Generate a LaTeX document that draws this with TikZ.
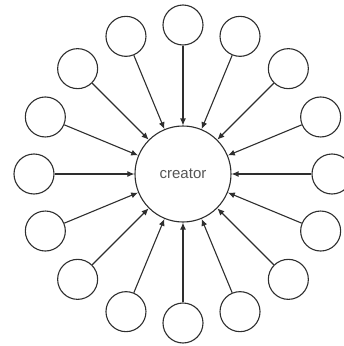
\documentclass[tikz,border=0pt]{standalone}
\usepackage{fontspec}
\setmainfont{Liberation Sans}
\usetikzlibrary{arrows.meta}
\definecolor{ink}{HTML}{2E2E2E}
\definecolor{txt}{HTML}{555555}
\begin{document}
\begin{tikzpicture}[x=1pt,y=1pt,
  hub/.style={circle,draw=ink,line width=1.1pt,minimum size=96pt,inner sep=0pt,
    font=\fontsize{15}{18}\selectfont,text=txt},
  leaf/.style={circle,draw=ink,line width=1.1pt,minimum size=40pt,inner sep=0pt},
  arr/.style={draw=ink,line width=1.1pt,-{Latex[length=7pt,width=6pt]}}]
\useasboundingbox (-183,-172) rectangle (161,174);
\node[hub] (c) at (0,0) {creator};
\foreach \i in {0,...,15} {
  \node[leaf] (o\i) at (\i*22.5:149) {};
  \draw[arr] (o\i) -- (c);
}
\end{tikzpicture}
\end{document}
